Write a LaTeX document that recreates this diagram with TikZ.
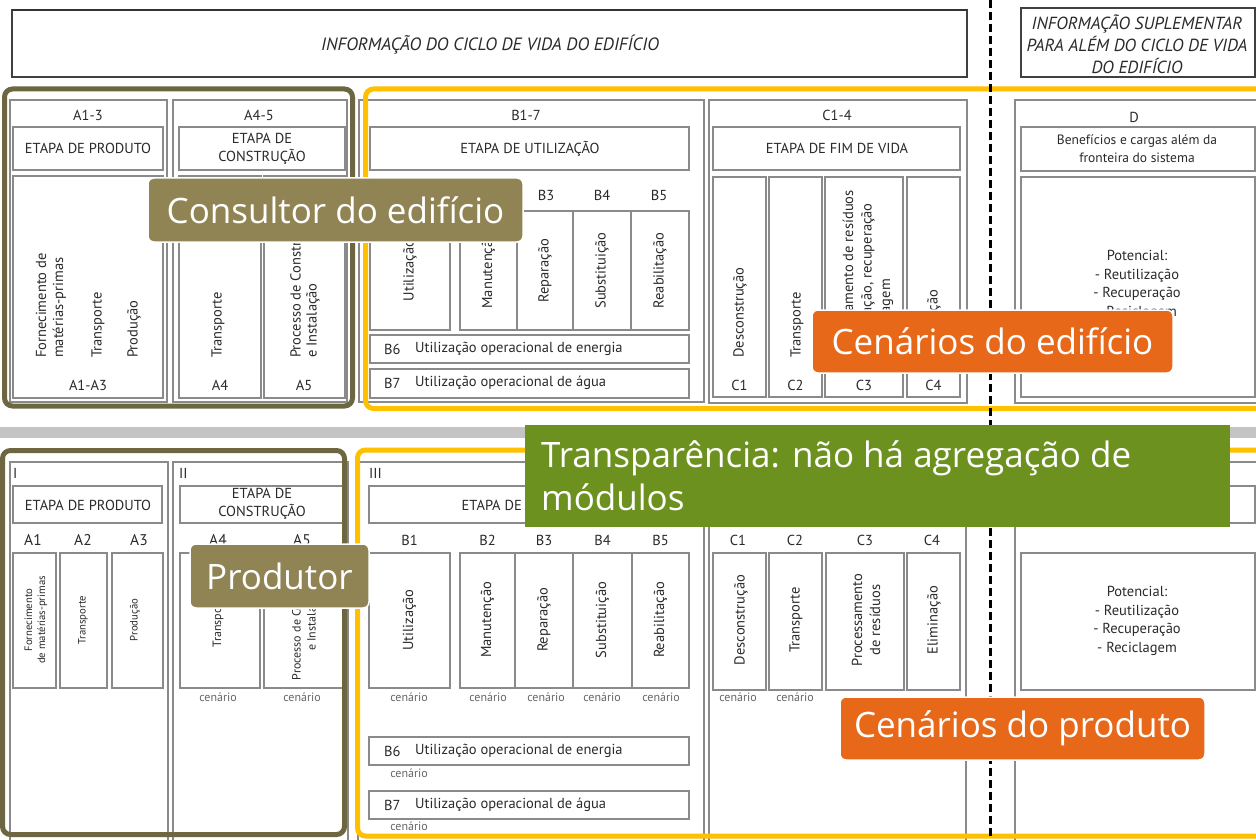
\documentclass[tikz,border=0pt]{standalone}
\usepackage{fontspec}
\setmainfont{PT Sans}
\newfontfamily\lblfont{Open Sans}
\definecolor{olivedark}{HTML}{6D6741}
\definecolor{khaki}{HTML}{918454}
\definecolor{ybord}{HTML}{FFC000}
\definecolor{orng}{HTML}{E8681A}
\definecolor{grn}{HTML}{6C911F}
\definecolor{cellgray}{HTML}{8A8A8A}
\definecolor{txtgray}{HTML}{2A2A2A}
\definecolor{bandgray}{HTML}{C4C4C4}
\tikzset{
 cell/.style={draw=cellgray, line width=1.1pt, fill=white},
 hdr/.style={draw=black!75, line width=1.6pt, fill=white},
 t13/.style={inner sep=0pt, text=txtgray, font=\fontsize{14.5}{18}\selectfont},
 vt/.style={t13, rotate=90},
 vts/.style={inner sep=0pt, text=txtgray, rotate=90, font=\fontsize{10.7}{13}\selectfont, align=center},
 vtm/.style={inner sep=0pt, text=txtgray, rotate=90, font=\fontsize{12}{15}\selectfont, align=center},
 cen/.style={inner sep=0pt, text=black!60, font=\fontsize{12}{14}\selectfont},
 frameO/.style={draw=olivedark, line width=5pt, rounded corners=8pt},
 frameY/.style={draw=ybord, line width=5pt, rounded corners=8pt},
 tag/.style={text=white, font=\lblfont\fontsize{35}{40}\selectfont, inner sep=0pt},
 tagbox/.style={tag, draw=white, line width=1.5pt, rounded corners=6pt},
}
\begin{document}
\begin{tikzpicture}[x=1pt,y=-1pt]
\useasboundingbox (0,0) rectangle (1256,840);
\clip (0,0) rectangle (1256,840);
\fill[white] (0,0) rectangle (1256,840);

% ---------- headers ----------
\draw[hdr] (12,10) rectangle (967,77);
\draw[black!80, line width=2.4pt] (12,10) -- (967,10);
\node[t13, font=\itshape\fontsize{17.8}{20}\selectfont] (hdrA) at (490,45) {INFORMAÇÃO DO CICLO DE VIDA DO EDIFÍCIO};
\draw[hdr] (1021,8) rectangle (1255,77);
\node[t13, align=center, font=\itshape\fontsize{17.5}{22}\selectfont] (hdrB) at (1137,44) {INFORMAÇÃO SUPLEMENTAR\\PARA ALÉM DO CICLO DE VIDA\\DO EDIFÍCIO};

% ---------- top panel : A1-3 ----------
\draw[cell] (10,100) rectangle (167,402);
\node[t13] (lA13) at (88,115) {A1-3};
\draw[cell] (13,127) rectangle (163,170);
\node[t13] (tA13) at (88,148.5) {ETAPA DE PRODUTO};
\draw[cell] (13,176) rectangle (163,398);
\node[vt, anchor=west, align=left, font=\fontsize{14.5}{17}\selectfont] (ta1t) at (51,358) {Fornecimento de\\matérias-primas};
\node[vt, anchor=west] (ta2t) at (98,358) {Transporte};
\node[vt, anchor=west] (ta3t) at (134,358) {Produção};
\node[t13] (lA1A3) at (88,385) {A1-A3};

% A4-5
\draw[cell] (173,100) rectangle (347,402);
\node[t13] (lA45) at (259,115) {A4-5};
\draw[cell] (179,127) rectangle (345,170);
\node[t13, align=center] (tA45) at (262,149) {ETAPA DE\\CONSTRUÇÃO};
\draw[cell] (179,176) rectangle (261,398);
\draw[cell] (264,176) rectangle (345,398);
\node[vt, anchor=west] (tA4t) at (218,358) {Transporte};
\node[vt, anchor=west, align=left, font=\fontsize{14.5}{16}\selectfont] (tA5t) at (305,358) {Processo de Construção\\e Instalação};
\node[t13] (lA4) at (220,385) {A4};
\node[t13] (lA5) at (304,385) {A5};

% B1-7
\draw[cell] (359,100) rectangle (704,402);
\node[t13] (lB17) at (526,115) {B1-7};
\draw[cell] (370,127) rectangle (689,170);
\node[t13] (tB17) at (530,148.5) {ETAPA DE UTILIZAÇÃO};
\foreach \a/\b/\l/\t in {370/450/B1/Utilização, 460/517/B2/Manutenção, 517/573/B3/Reparação, 573/631/B4/Substituição, 631/689/B5/Reabilitação}{
  \draw[cell] (\a,211) rectangle (\b,330);
  \node[vt] (tt\l) at ({(\a+\b)/2},270.5) {\t};
}
\foreach \l/\c in {B3/546, B4/602, B5/659}{
  \node[t13] (tl\l) at (\c,195) {\l};
}
\draw[cell] (370,335) rectangle (689,363);
\node[t13, anchor=west] (tlB6) at (384,349) {B6};
\node[t13, anchor=west] (ttB6) at (415,349) {Utilização operacional de energia};
\draw[cell] (370,369) rectangle (689,398);
\node[t13, anchor=west] (tlB7) at (384,383) {B7};
\node[t13, anchor=west] (ttB7) at (415,383) {Utilização operacional de água};

% C1-4
\draw[cell] (709,100) rectangle (967,403);
\node[t13] (lC14) at (837,115) {C1-4};
\draw[cell] (713,127) rectangle (960,170);
\node[t13] (tC14) at (837,148.5) {ETAPA DE FIM DE VIDA};
\foreach \a/\b/\l in {713/766/C1, 769/822/C2, 825/903/C3, 907/960/C4}{
  \draw[cell] (\a,177) rectangle (\b,397);
  \node[t13] (tl\l) at ({(\a+\b)/2},385) {\l};
}
\node[vt, anchor=west] (ttC1) at (740,358) {Desconstrução};
\node[vt, anchor=west] (ttC2) at (797,358) {Transporte};
\begin{scope}
\clip (825,179) rectangle (903,397);
\node[vt, anchor=west, align=left, font=\fontsize{14.5}{18.5}\selectfont] (ttC3) at (868,358) {Processamento de resíduos\\reutilização, recuperação\\e reciclagem};
\end{scope}
\node[vt, anchor=west] (ttC4) at (934,358) {Eliminação};

% D
\draw[cell] (1015,100) rectangle (1268,403);
\node[t13] (lD) at (1134,117) {D};
\draw[cell] (1021,127) rectangle (1255,171);
\node[t13, align=center, font=\fontsize{13.5}{18}\selectfont] (tD) at (1137,149) {Benefícios e cargas além da\\fronteira do sistema};
\draw[cell] (1021,177) rectangle (1255,397);
\node[t13, align=center, font=\fontsize{14.5}{18.5}\selectfont] (potA) at (1137,285) {Potencial:\\- Reutilização\\- Recuperação\\- Reciclagem};

% ---------- band ----------
\fill[bandgray] (0,427) rectangle (1256,438);

% ---------- bottom panel : I ----------
\draw[cell] (10,462) rectangle (168,850);
\node[t13, anchor=west] (lI) at (13,473) {I};
\draw[cell] (13,486) rectangle (162,523);
\node[t13] (tI) at (88,505) {ETAPA DE PRODUTO};
\foreach \a/\b/\l/\c in {13/56/A1/33, 60/107/A2/83, 112/163/A3/139}{
  \draw[cell] (\a,553) rectangle (\b,688);
  \node[t13, font=\fontsize{15.5}{17}\selectfont] (bl\l) at (\c,540) {\l};
}
\node[vts] (btA1) at (36,620) {Fornecimento\\de matérias-primas};
\node[vts] (btA2) at (83,620) {Transporte};
\node[vts] (btA3) at (135,620) {Produção};

% II
\draw[cell] (173,462) rectangle (348,850);
\node[t13, anchor=west] (lII) at (179,473) {II};
\draw[cell] (180,486) rectangle (346,523);
\node[t13, align=center] (tII) at (262,504) {ETAPA DE\\CONSTRUÇÃO};
\node[t13, font=\fontsize{15.5}{17}\selectfont] (blA4) at (218,540) {A4};
\node[t13, font=\fontsize{15.5}{17}\selectfont] (blA5) at (302,540) {A5};
\draw[cell] (180,553) rectangle (260,688);
\draw[cell] (264,553) rectangle (346,688);
\node[vtm] (btA4) at (218,620) {Transporte};
\node[vtm] (btA5) at (305,620) {Processo de Construção\\e Instalação};
\node[cen] (bcA4) at (218,697) {cenário};
\node[cen] (bcA5) at (302,697) {cenário};

% III
\draw[cell] (358,462) rectangle (704,850);
\node[t13, anchor=west] (lIII) at (369,473) {III};
\draw[cell] (369,486) rectangle (689,523);
\node[t13, anchor=east] (tIII) at (522,505) {ETAPA DE};
\foreach \a/\b/\l/\t/\c in {369/450/B1/Utilização/409, 460/515/B2/Manutenção/488, 515/573/B3/Reparação/546, 573/632/B4/Substituição/602, 632/689/B5/Reabilitação/661}{
  \draw[cell] (\a,553) rectangle (\b,688);
  \node[t13] (bl\l) at ({(\a+\b)/2},540) {\l};
  \node[vt] (bt\l) at ({(\a+\b)/2},620) {\t};
  \node[cen] (bc\l) at (\c,697) {cenário};
}
\draw[cell] (369,737) rectangle (689,765);
\node[t13, anchor=west] (blB6) at (384,751) {B6};
\node[t13, anchor=west] (btB6) at (415,751) {Utilização operacional de energia};
\node[cen] (bcB6) at (409,773) {cenário};
\draw[cell] (369,791) rectangle (689,819);
\node[t13, anchor=west] (blB7) at (384,805) {B7};
\node[t13, anchor=west] (btB7) at (415,805) {Utilização operacional de água};
\node[cen] (bcB7) at (409,826) {cenário};

% IV (C)
\draw[cell] (709,462) rectangle (966,850);
\foreach \a/\b/\l/\c in {713/766/C1/738, 769/822/C2/795, 826/904/C3/865, 907/960/C4/932}{
  \draw[cell] (\a,553) rectangle (\b,690);
  \node[t13] (bl\l) at (\c,540) {\l};
}
\node[vt] (btC1) at (741,620) {Desconstrução};
\node[vt] (btC2) at (796,620) {Transporte};
\node[vt, align=center] (btC3) at (866,620) {Processamento\\de resíduos};
\node[vt] (btC4) at (934,620) {Eliminação};
\node[cen] (bcC1) at (738,697) {cenário};
\node[cen] (bcC2) at (795,697) {cenário};

% V (D)
\draw[cell] (1015,462) rectangle (1268,850);
\draw[cell] (1021,486) rectangle (1255,523);
\node[t13, align=center, font=\fontsize{13.5}{18}\selectfont] (tV) at (1137,505) {Benefícios e cargas além da\\fronteira do sistema};
\draw[cell] (1021,553) rectangle (1255,690);
\node[t13, align=center, font=\fontsize{14.5}{18.5}\selectfont] (potB) at (1137,621) {Potencial:\\- Reutilização\\- Recuperação\\- Reciclagem};

% ---------- frames ----------
\draw[frameO] (4.5,89) rectangle (352.5,406);
\draw[frameY] (365.5,89) rectangle (1290,408.5);
\draw[frameO] (2.5,450.5) rectangle (344.5,834.5);
\draw[frameY] (357.5,450) rectangle (1290,836);

% ---------- divider ----------
\coordinate (divT) at (990,0);
\coordinate (divB) at (990,840);
\draw[black, line width=3pt, dash pattern=on 8pt off 4pt] (divT) -- (divB);

% ---------- overlays ----------
\node[tagbox, fill=khaki, minimum width=375pt, minimum height=64pt] (consultor) at (335.5,210) {Consultor do edifício};
\node[tagbox, fill=orng, minimum width=361pt, minimum height=63pt] (cenEd) at (992.5,341.5) {Cenários do edifício};
\node[tagbox, fill=khaki, minimum width=179pt, minimum height=64pt] (produtor) at (279.5,576) {Produtor};
\node[tagbox, fill=orng, minimum width=365pt, minimum height=63pt] (cenPr) at (1022.5,728.5) {Cenários do produto};
\node[fill=grn, minimum width=705pt, minimum height=102pt, inner sep=0pt, anchor=north west] (transp) at (525,425) {};
\node[tag, anchor=base west] (transp1) at (541,467) {Transparência: não há agregação de};
\node[tag, anchor=base west] (transp2) at (541,510) {módulos};
\end{tikzpicture}
\end{document}
